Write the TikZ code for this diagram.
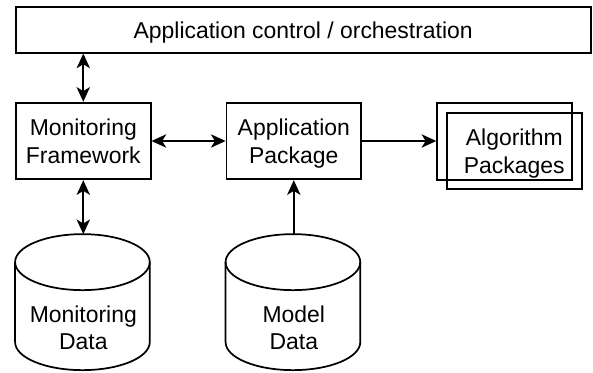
\documentclass[tikz,border=0pt]{standalone}
\usepackage{fontspec}
\setmainfont{Liberation Sans}
\usetikzlibrary{arrows.meta}

\tikzset{every picture/.style={line width=1.3pt}}
\tikzset{
	blk/.style={draw, rectangle, inner sep=0pt, minimum width=101pt, minimum height=57.5pt, align=center, text depth=0pt},
	dbcyl/.style={rectangle, inner sep=0pt, minimum width=101pt, minimum height=102pt},
	dblbl/.style={align=center, inner sep=0pt, text depth=0pt, label distance=-50.25pt}
}

\begin{document}
\begin{tikzpicture}[x=0.75pt,y=0.75pt,yscale=-1,xscale=1, font=\fontsize{17.2}{20.6}\selectfont, >={Stealth[length=11pt,width=10pt,inset=3pt]}]
	\useasboundingbox (0,0) rectangle (593,372);

	%Top bar
	\node[blk, minimum width=431.25pt, minimum height=34.5pt] (ctrl) at (303.2,29.7) {Application control / orchestration};
	%Boxes
	\node[blk] (mf) at (83.3,141) {Monitoring\\Framework};
	\node[blk] (ap) at (293.8,141) {Application\\Package};
	\node[blk] (algback) at (504.5,141.3) {};
	\node[blk] (alg) at (514.3,151) {Algorithm\\Packages};

	%Data stores
	\node[dbcyl, label={[dblbl]below:Monitoring\\Data}] (mdata) at (83.3,303) {};
	\node[dbcyl, label={[dblbl]below:Model\\Data}] (moddata) at (293.8,303) {};
	\draw (mdata.north west) ++(0,28) arc[start angle=180, end angle=-180, x radius=50.5pt, y radius=21pt];
	\draw (mdata.north west) ++(0,28) -- ++(0,80) arc[start angle=180, end angle=0, x radius=50.5pt, y radius=21pt] -- ++(0,-80);
	\draw (moddata.north west) ++(0,28) arc[start angle=180, end angle=-180, x radius=50.5pt, y radius=21pt];
	\draw (moddata.north west) ++(0,28) -- ++(0,80) arc[start angle=180, end angle=0, x radius=50.5pt, y radius=21pt] -- ++(0,-80);

	%Connectors
	\draw[<->] (ctrl.south -| mf.north) -- (mf.north);
	\draw[<->] (mf.east) -- (ap.west);
	\draw[->] (ap.east) -- (ap.east -| algback.west);
	\draw[<->] (mf.south) -- (mdata.north);
	\draw[->] (moddata.north) -- (ap.south);

\end{tikzpicture}
\end{document}
